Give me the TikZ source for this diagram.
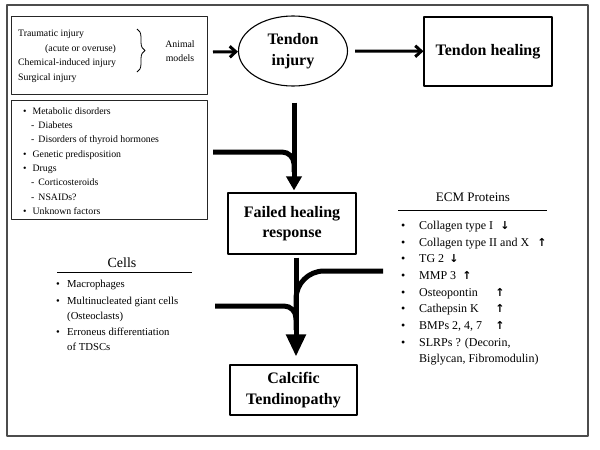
\documentclass[tikz,border=0pt]{standalone}
\usepackage{fontspec}
\setmainfont{Liberation Serif}
\newfontfamily\arrowfont{DejaVu Sans}
\usetikzlibrary{arrows.meta,decorations.pathreplacing,shapes.geometric}

\begin{document}
\begin{tikzpicture}[x=1pt, y=-1pt, line join=round, >=Stealth,
		box/.style={draw, line width=0.9pt, black!85, inner sep=0pt},
		stage/.style={draw, line width=1.1pt, align=center, inner sep=0pt, font=\fontsize{16}{20.5}\selectfont\bfseries},
		small/.style={anchor=base west, inner sep=0pt, font=\fontsize{9.8}{14}\selectfont},
		item/.style={anchor=base west, inner sep=0pt, font=\fontsize{12}{14}\selectfont},
		cell/.style={anchor=base west, inner sep=0pt, font=\fontsize{10.7}{14}\selectfont},
		updown/.style={anchor=base, inner sep=0pt, font=\arrowfont\bfseries\fontsize{11}{12}\selectfont},
		bigarrow/.style={line width=5pt, -{Triangle[length=22pt,width=19pt]}},
		midarrow/.style={line width=5pt, -{Triangle[length=14pt,width=15pt]}},
		thinarrow/.style={line width=3pt, -{Straight Barb[length=6pt,width=11pt]}}]
	\useasboundingbox (0,0) rectangle (600,450);
	\draw[line width=1.2pt, black!70] (7,5) rectangle (588,436);

	% top row
	\node[box, minimum width=196pt, minimum height=78pt] (models) at (109.5,55.5) {};
	\node[small] (trauma) at (18,36) {Traumatic injury};
	\node[small] (acute) at (45,51) {(acute or overuse)};
	\node[small] (chem) at (18,65) {Chemical-induced injury};
	\node[small] (surg) at (18,80) {Surgical injury};
	\draw[line width=0.8pt, decorate, decoration={brace, amplitude=8pt}] (137,29) -- (137,72);
	\node[small, anchor=center, align=center] (animal) at (180,51) {Animal\\models};
	\node[stage, ellipse, minimum width=109pt, minimum height=70pt] (injury) at (293,51) {Tendon\\injury};
	\node[stage, minimum width=128pt, minimum height=69pt] (healing) at (488,51.5) {Tendon healing};
	\draw[thinarrow] (213,52) -- (injury);
	\draw[thinarrow] (injury.east) ++(7,0) -- (healing);

	% risk factors
	\node[box, minimum width=196pt, minimum height=119pt] (factors) at (109.5,159.5) {};
	\foreach \y/\t in {114/Metabolic disorders, 157/Genetic predisposition, 171/Drugs, 214/Unknown factors}
		\node[small] at (23,\y) {\textbullet\hspace{6pt}\t};
	\foreach \y/\t in {128/Diabetes, 142/Disorders of thyroid hormones, 185/Corticosteroids, 200/NSAIDs?}
		\node[small] at (31,\y) {-\hspace{4pt}\t};

	\node[stage, minimum width=128pt, minimum height=61pt] (failed) at (292,223.5) {Failed healing\\response};
	\node[stage, minimum width=127pt, minimum height=50pt] (calcific) at (293.5,390) {Calcific\\Tendinopathy};

	\coordinate (risk) at (213,152);
	\draw[midarrow, shorten >=2pt] (injury.south) ++(1,16) -- (failed.north -| 294,0);
	\draw[line width=5pt, rounded corners=12pt] (risk) -- (294,152) -- (294,172);

	% ECM proteins
	\node[item, anchor=base, font=\fontsize{13}{14}\selectfont] (ecm) at (473,201) {ECM Proteins};
	\draw[line width=0.9pt] (398,210) -- (547,210);
	\foreach \y/\t in {229/Collagen type I, 246/Collagen type II and X, 262/TG 2, 279/MMP 3,
			296/Osteopontin, 312/Cathepsin K, 329/BMPs 2{,} 4{,} 7, 346/SLRPs ? (Decorin{,}}
		{\node[item] at (401,\y) {\textbullet};
		 \node[item] at (419,\y) {\t};}
	\node[item] (slrp) at (419,362) {Biglycan, Fibromodulin)};
	\foreach \x/\y/\a in {505/229/↓, 542/246/↑, 454/262/↓, 467/279/↑, 500/296/↑, 500/312/↑, 500/329/↑}
		\node[updown] at (\x,\y) {\a};

	% cells
	\node[cell, anchor=base, font=\fontsize{14}{14}\selectfont] (cells) at (122,267) {Cells};
	\draw[line width=0.9pt] (57,272) -- (192,272);
	\foreach \y/\t in {287/Macrophages, 304/Multinucleated giant cells, 335/Erroneus differentiation}
		{\node[cell] at (56,\y) {\textbullet};
		 \node[cell] at (67,\y) {\t};}
	\node[cell] (osteo) at (67,319) {(Osteoclasts)};
	\node[cell] (tdsc) at (67,350) {of TDSCs};

	\coordinate (ecmin) at (383,271);
	\coordinate (cellin) at (215,306);
	\draw[bigarrow, shorten >=8pt] (failed.south -| 296,0) ++(0,3) -- (calcific.north -| 296,0);
	\draw[line width=5pt, rounded corners=28pt] (ecmin) -- (296,271) -- (296,320);
	\draw[line width=5pt, rounded corners=12pt] (cellin) -- (296,306) -- (296,330);
\end{tikzpicture}
\end{document}
